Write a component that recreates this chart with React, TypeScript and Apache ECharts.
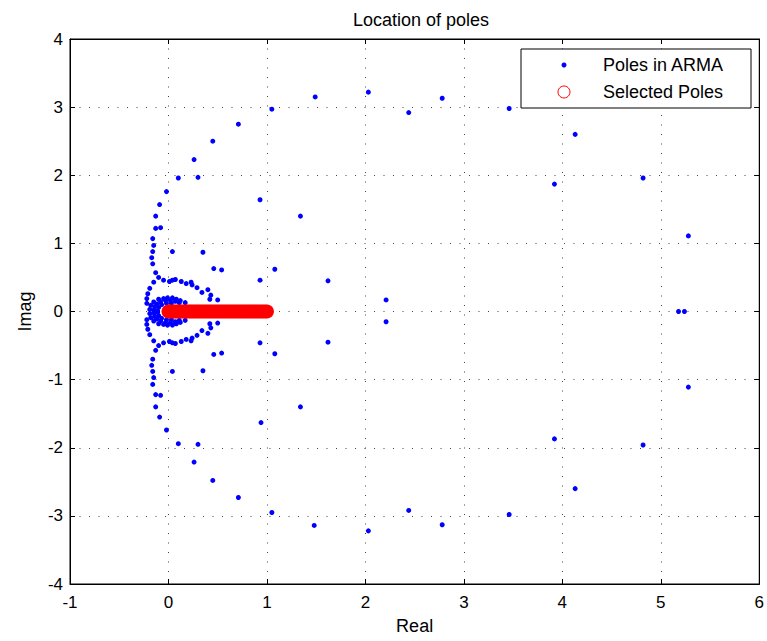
import { useEffect, useRef } from "react";
import * as echarts from "echarts";

const xRange = [-1, 6];
const yRange = [-4, 4];
const tickStep = 1;

// Poles in ARMA, upper half-plane (and real axis)
const armaPolesUpper: [number, number][] = [
  [1.05, 2.97], [1.49, 3.15], [2.03, 3.22], [2.44, 2.92], [2.78, 3.13], [3.46, 2.98],
  [4.13, 2.6], [3.92, 1.87], [4.82, 1.96], [5.28, 1.11], [5.18, 0.0], [5.24, 0.0],
  [0.71, 2.75], [0.45, 2.5], [0.26, 2.23], [0.3, 1.97], [0.1, 1.96], [-0.02, 1.76],
  [-0.09, 1.57], [-0.13, 1.4], [-0.13, 1.22], [-0.08, 1.23], [-0.16, 1.07], [-0.15, 0.97],
  [-0.16, 0.88], [-0.17, 0.79], [-0.16, 0.7], [-0.13, 0.57], [-0.1, 0.5],
  [0.93, 1.64], [1.34, 1.4], [0.04, 0.88], [0.35, 0.87], [0.46, 0.63], [0.54, 0.61],
  [1.08, 0.62], [0.93, 0.46], [1.62, 0.45], [2.21, 0.17],
  [-0.05, 0.46], [0.01, 0.44], [0.04, 0.46], [0.07, 0.47], [0.13, 0.44], [0.18, 0.41],
  [0.23, 0.43], [0.24, 0.39], [0.29, 0.35], [0.4, 0.32], [0.34, 0.28], [0.43, 0.24],
  [0.42, 0.18], [0.5, 0.17],
  [-0.15, 0.43], [-0.19, 0.34], [-0.21, 0.26], [-0.22, 0.19], [-0.22, 0.12],
  [-0.19, 0.03], [-0.18, 0.09], [-0.15, 0.14], [-0.1, 0.18], [-0.05, 0.19], [-0.01, 0.2],
  [0.04, 0.2], [0.08, 0.18], [0.12, 0.16], [0.17, 0.13],
  [-0.15, 0.02], [-0.14, 0.07], [-0.12, 0.11], [-0.08, 0.14], [-0.03, 0.16], [0.02, 0.16],
  [0.07, 0.15], [0.11, 0.13],
  [-0.11, 0.01], [-0.1, 0.06], [-0.07, 0.1], [-0.02, 0.12], [0.03, 0.12],
];

// Poles in ARMA, lower half-plane
const armaPolesLower: [number, number][] = [
  [1.05, -2.95], [1.48, -3.14], [2.03, -3.22], [2.44, -2.92], [2.78, -3.13], [3.46, -2.98],
  [4.13, -2.6], [3.92, -1.87], [4.82, -1.96], [5.28, -1.11],
  [0.71, -2.73], [0.45, -2.48], [0.26, -2.21], [0.3, -1.95], [0.1, -1.94], [-0.02, -1.74],
  [-0.09, -1.55], [-0.13, -1.4], [-0.13, -1.22], [-0.08, -1.23], [-0.16, -1.07], [-0.15, -0.97],
  [-0.16, -0.88], [-0.17, -0.79], [-0.16, -0.7], [-0.13, -0.57], [-0.1, -0.5],
  [0.94, -1.63], [1.34, -1.4], [0.04, -0.88], [0.35, -0.87], [0.46, -0.63], [0.54, -0.61],
  [1.08, -0.62], [0.93, -0.46], [1.62, -0.45], [2.21, -0.15],
  [-0.05, -0.46], [0.01, -0.44], [0.04, -0.46], [0.07, -0.47], [0.13, -0.44], [0.18, -0.41],
  [0.23, -0.43], [0.24, -0.39], [0.29, -0.35], [0.4, -0.32], [0.34, -0.28], [0.43, -0.24],
  [0.42, -0.18], [0.5, -0.17],
  [-0.15, -0.43], [-0.19, -0.34], [-0.21, -0.26], [-0.22, -0.19], [-0.22, -0.12],
  [-0.19, -0.03], [-0.18, -0.09], [-0.15, -0.14], [-0.1, -0.18], [-0.05, -0.19], [-0.01, -0.2],
  [0.04, -0.2], [0.08, -0.18], [0.12, -0.16], [0.17, -0.13],
  [-0.15, -0.02], [-0.14, -0.07], [-0.12, -0.11], [-0.08, -0.14], [-0.03, -0.16], [0.02, -0.16],
  [0.07, -0.15], [0.11, -0.13],
  [-0.11, -0.01], [-0.1, -0.06], [-0.07, -0.1], [-0.02, -0.12], [0.03, -0.12],
];

// Selected poles: dense set on the real axis between 0 and 1
const selectedPolesReal = [
  0.0, 0.025, 0.05, 0.075, 0.1, 0.125, 0.15, 0.175, 0.2, 0.225, 0.25, 0.275, 0.3, 0.325,
  0.35, 0.375, 0.4, 0.425, 0.45, 0.475, 0.5, 0.525, 0.55, 0.575, 0.6, 0.625, 0.65, 0.675,
  0.7, 0.725, 0.75, 0.775, 0.8, 0.825, 0.85, 0.875, 0.9, 0.925, 0.95, 0.975, 1.0,
];
const selectedPolesImag = selectedPolesReal.map(() => 0);

const FONT = "'Liberation Sans', Arial, Helvetica, sans-serif";

export default function App() {
  const ref = useRef<HTMLDivElement>(null);

  useEffect(() => {
    if (!ref.current) return;
    const chart = echarts.init(ref.current, undefined, { renderer: "svg" });

    const gridLine = { show: true, lineStyle: { color: "#444", width: 1, type: [1, 8.5] as any } };
    const axisLine = { show: true, onZero: false, lineStyle: { color: "#000", width: 1 } };
    const axisTick = { show: true, inside: true, length: 5, lineStyle: { color: "#000", width: 1 } };

    chart.setOption({
      animation: false,
      backgroundColor: "#fff",
      title: {
        text: "Location of poles",
        left: 416,
        top: 6,
        textAlign: "center",
        textStyle: { fontFamily: FONT, fontSize: 18, fontWeight: "normal", color: "#000" },
      },
      grid: {
        left: 70,
        top: 39,
        width: 692,
        height: 545,
        show: true,
        borderColor: "#000",
        borderWidth: 1,
        backgroundColor: "#fff",
      },
      xAxis: [
        {
          type: "value",
          position: "bottom",
          min: xRange[0],
          max: xRange[1],
          interval: tickStep,
          name: "Real",
          nameLocation: "middle",
          nameGap: 33,
          nameTextStyle: { fontFamily: FONT, fontSize: 18, color: "#000" },
          axisLine,
          axisTick,
          axisLabel: { fontFamily: FONT, fontSize: 17, color: "#000", margin: 10, showMinLabel: true, showMaxLabel: true },
          splitLine: gridLine,
        },
        {
          type: "value",
          position: "top",
          min: xRange[0],
          max: xRange[1],
          interval: tickStep,
          axisLine,
          axisTick,
          axisLabel: { show: false },
          splitLine: { show: false },
        },
      ],
      yAxis: [
        {
          type: "value",
          position: "left",
          min: yRange[0],
          max: yRange[1],
          interval: tickStep,
          name: "Imag",
          nameLocation: "middle",
          nameGap: 36,
          nameTextStyle: { fontFamily: FONT, fontSize: 18, color: "#000" },
          axisLine,
          axisTick,
          axisLabel: { fontFamily: FONT, fontSize: 17, color: "#000", margin: 7, showMinLabel: true, showMaxLabel: true },
          splitLine: gridLine,
        },
        {
          type: "value",
          position: "right",
          min: yRange[0],
          max: yRange[1],
          interval: tickStep,
          axisLine,
          axisTick,
          axisLabel: { show: false },
          splitLine: { show: false },
        },
      ],
      series: [
        {
          name: "Poles in ARMA",
          type: "scatter",
          xAxisIndex: 0,
          yAxisIndex: 0,
          symbol: "circle",
          symbolSize: 5,
          itemStyle: { color: "#0000ff", opacity: 1 },
          data: [...armaPolesUpper, ...armaPolesLower],
        },
        {
          name: "Selected Poles",
          type: "scatter",
          xAxisIndex: 0,
          yAxisIndex: 0,
          symbol: "circle",
          symbolSize: 14,
          itemStyle: { color: "#ff0000", opacity: 1 },
          data: selectedPolesReal.map((re, i) => [re, selectedPolesImag[i]]),
        },
      ],
      graphic: [
        {
          type: "rect",
          shape: { x: 521, y: 49, width: 230, height: 59 },
          style: { fill: "#fff", stroke: "#000", lineWidth: 1 },
          z: 10,
        },
        {
          type: "circle",
          shape: { cx: 564, cy: 65, r: 2.5 },
          style: { fill: "#0000ff" },
          z: 11,
        },
        {
          type: "text",
          x: 603,
          y: 65,
          style: { text: "Poles in ARMA", fontFamily: FONT, fontSize: 18, fill: "#000", verticalAlign: "middle" },
          z: 11,
        },
        {
          type: "circle",
          shape: { cx: 564, cy: 92, r: 6 },
          style: { fill: "none", stroke: "#ff0000", lineWidth: 1 },
          z: 11,
        },
        {
          type: "text",
          x: 603,
          y: 92,
          style: { text: "Selected Poles", fontFamily: FONT, fontSize: 18, fill: "#000", verticalAlign: "middle" },
          z: 11,
        },
      ],
    });

    return () => chart.dispose();
  }, []);

  return <div ref={ref} style={{ position: "absolute", left: 0, top: 0, width: 767, height: 641 }} />;
}
